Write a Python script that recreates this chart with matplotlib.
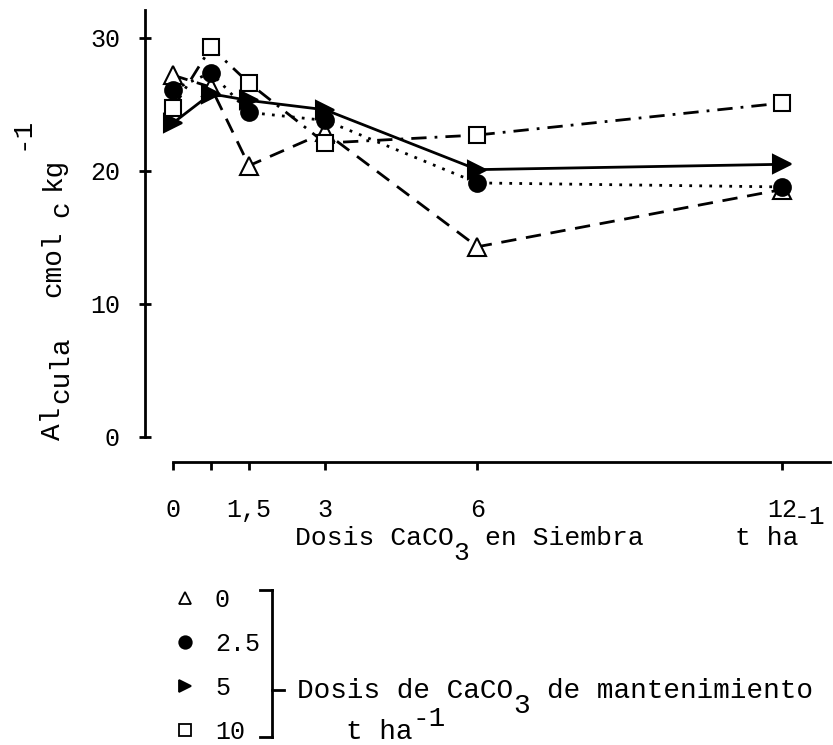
import matplotlib
matplotlib.use("Agg")
import matplotlib.pyplot as plt
from matplotlib.lines import Line2D

plt.rcParams['font.family'] = ['Liberation Mono', 'DejaVu Sans']

# Dosis CaCO3 en siembra (t/ha)
dosis = [0, 0.75, 1.5, 3, 6, 12]
tick_labels = ['0', '', '1,5', '3', '6', '12']

# Al cambiable (cmol_c/kg) por dosis de mantenimiento
mant_labels = ['0', '2.5', '5', '10']
al_0 = [27.2, 26.3, 20.4, 22.9, 14.3, 18.6]
al_25 = [26.1, 27.4, 24.4, 23.8, 19.1, 18.8]
al_5 = [23.6, 25.8, 25.3, 24.6, 20.1, 20.5]
al_10 = [24.7, 29.3, 26.6, 22.1, 22.7, 25.1]

W, H = 833, 745
fig = plt.figure(figsize=(W / 100, H / 100), dpi=100)
ax = fig.add_axes([145 / W, (H - 437) / H, (830 - 145) / W, (437 - 10) / H])

styles = [
    (al_0, '^', 'white', (0, (5.5, 3.5)), 13),
    (al_25, 'o', 'black', (0, (1, 2.6)), 12),
    (al_5, '>', 'black', '-', 13),
    (al_10, 's', 'white', (0, (5.5, 2.9, 1, 2.9)), 11),
]
handles = []
for vals, mk, fc, ls, ms in styles:
    ax.plot(dosis, vals, color='black', lw=2, ls=ls, marker=mk, ms=ms,
            mfc=fc, mec='black', mew=1.5, clip_on=False)
    handles.append(Line2D([], [], ls='none', marker=mk, ms=9, mfc=fc,
                          mec='black', mew=1.3))

ax.set_xlim(-0.55, 12.95)
ax.set_ylim(0, 32.1)
for s in ['top', 'right']:
    ax.spines[s].set_visible(False)
ax.spines['bottom'].set_position(('outward', 18))
ax.spines['bottom'].set_bounds(0, 12.95)
ax.spines['left'].set_linewidth(2)
ax.spines['bottom'].set_linewidth(2)

ax.set_xticks(dosis)
ax.set_xticklabels(tick_labels)
ax.set_yticks([0, 10, 20, 30])
ax.tick_params(axis='x', direction='out', length=6, width=2, pad=20, labelsize=18)
ax.tick_params(axis='y', direction='inout', length=8, width=2, pad=14, labelsize=18)


def mono(x, y, pieces, size=19, rot=0):
    # texto en fuente monoespaciada con sub/superindices de tamaño completo
    w = 0.6 * size
    for txt, col, dy in pieces:
        off = (col * w, dy) if rot == 0 else (-dy, col * w)
        ax.annotate(txt, xy=(x, H - y), xycoords='figure pixels', xytext=off,
                    textcoords='offset points', ha='left', va='baseline',
                    rotation=rot, rotation_mode='anchor', fontsize=size,
                    annotation_clip=False)


# eje y
mono(60, 440, [('Al', 0, 0), ('cula', 2.2, -6), ('cmol', 8.6, 0), ('c', 13.4, -6),
               ('kg', 15, 0), ('-1', 17.4, 23)], size=20, rot=90)
# eje x
mono(295, 545, [('Dosis CaCO', 0, 0), ('3', 10, -11), ('en Siembra', 12, 0)], size=19)
mono(735, 545, [('t ha', 0, 0), ('-1', 3.7, 15)], size=19)

fig.legend(handles=handles, labels=mant_labels, loc='upper left',
           bbox_to_anchor=(160 / W, 1 - 578 / H), frameon=False,
           fontsize=18, labelspacing=0.8, handletextpad=0.6,
           handlelength=1.2, borderaxespad=0)

# llave de la leyenda
tr = fig.transFigure
for (x0, y0), (x1, y1) in [((260, 590), (272, 590)), ((272, 590), (272, 737)),
                           ((260, 737), (272, 737)), ((272, 690), (284, 690))]:
    fig.add_artist(Line2D([x0 / W, x1 / W], [1 - y0 / H, 1 - y1 / H],
                          transform=tr, color='black', lw=2))

mono(297, 698, [('Dosis de CaCO', 0, 0), ('3', 13, -11), ('de mantenimiento', 15, 0)], size=20)
mono(346, 739, [('t ha', 0, 0), ('-1', 4, 9)], size=20)

fig.savefig('out.png', dpi=100)
